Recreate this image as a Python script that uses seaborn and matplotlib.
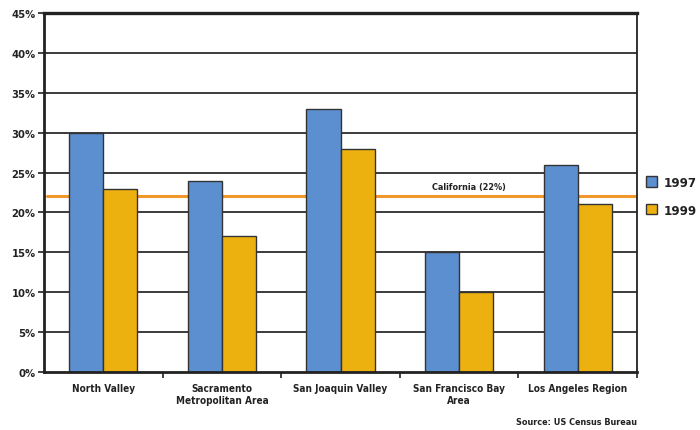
import matplotlib
matplotlib.use("Agg")
import matplotlib.pyplot as plt
import seaborn as sns
import pandas as pd
from matplotlib.ticker import FixedLocator

regions = ["North Valley", "Sacramento\nMetropolitan Area", "San Joaquin Valley",
           "San Francisco Bay\nArea", "Los Angeles Region"]
years = ["1997", "1999"]
vals_1997 = [30, 24, 33, 15, 26]
vals_1999 = [23, 17, 28, 10, 21]
california = 22
yticks = [0, 5, 10, 15, 20, 25, 30, 35, 40, 45]

df = pd.DataFrame({
    "region": regions * 2,
    "year": [years[0]] * len(regions) + [years[1]] * len(regions),
    "value": vals_1997 + vals_1999,
})

sns.set_theme(style="white")
fam = ["DejaVu Sans"]
plt.rcParams["font.family"] = fam
plt.rcParams["font.stretch"] = "condensed"

fig = plt.figure(figsize=(7, 4.31), dpi=100)
ax = fig.add_axes([44/700, 1-373/431, (637-44)/700, (373-14)/431])

for y in yticks[1:]:
    ax.axhline(y, color="#1a1a1a", lw=1.2, zorder=0)

sns.barplot(data=df, x="region", y="value", hue="year", order=regions,
            hue_order=years, palette=["#5B8FD0", "#EDB10F"], saturation=1, width=0.575,
            edgecolor="#333333", linewidth=1.0, ax=ax, zorder=2, legend=True)

ax.axhline(california, xmin=3/593, xmax=1, color="#F0962A", lw=2.2, zorder=1.5)
ax.text(3.08, 22.7, "California (22%)", ha="center", va="bottom",
        fontsize=6.5, fontweight="bold", color="#222222", stretch="condensed")

ax.set_xlim(-0.5, 4.5)
ax.set_ylim(0, 45)
ax.set_yticks(yticks)
ax.set_yticklabels([f"{v}%" for v in yticks], fontsize=8, fontweight="bold", color="#222222")
ax.set_xticks(range(len(regions)))
ax.set_xticklabels(regions, fontsize=7.2, fontweight="bold", color="#222222")
ax.xaxis.set_minor_locator(FixedLocator([0.5, 1.5, 2.5, 3.5, 4.5]))
ax.tick_params(axis="x", which="major", length=0, pad=8)
ax.tick_params(axis="x", which="minor", length=4, width=1.2, color="#222222", direction="out", bottom=True)
ax.tick_params(axis="y", length=4, width=1.2, color="#222222", direction="out", left=True, pad=2)
ax.set_xlabel("")
ax.set_ylabel("")
for s in ax.spines.values():
    s.set_color("#222222")
    s.set_linewidth(1.3)
ax.spines["left"].set_linewidth(2.0)
ax.spines["bottom"].set_linewidth(2.0)
ax.spines["top"].set_linewidth(2.4)

leg = ax.legend(loc="upper left", bbox_to_anchor=(1.0, 0.571), frameon=False,
                prop={"family": fam, "weight": "bold", "size": 9.5},
                handlelength=0.85, handleheight=0.85, handletextpad=0.5, labelspacing=1.1,
                borderaxespad=0.3)
for t in leg.get_texts():
    t.set_color("#222222")

fig.text(637/700, 1-423/431, "Source: US Census Bureau", ha="right", va="center",
         fontsize=6.5, fontweight="bold", color="#222222")

fig.savefig("out.png", dpi=100)
